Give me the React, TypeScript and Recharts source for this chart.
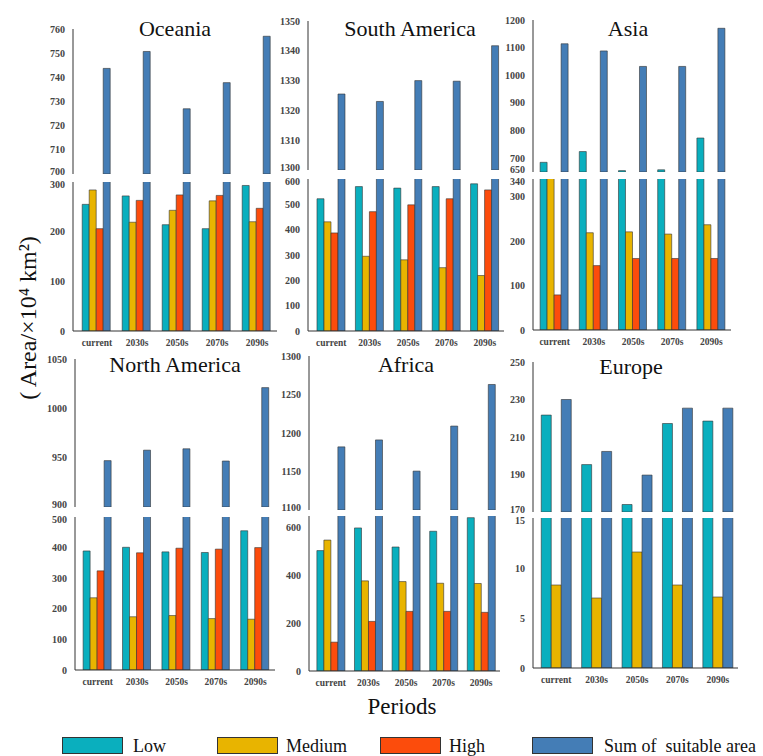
import { BarChart, Bar, XAxis, YAxis } from 'recharts';

const PERIODS = ['current', '2030s', '2050s', '2070s', '2090s'];

const oceaniaLow = [255, 272, 214, 206, 293];
const oceaniaMedium = [284, 219, 243, 262, 220];
const oceaniaHigh = [206, 263, 274, 273, 247];
const oceaniaSum = [743.7, 750.7, 727, 737.8, 757];

const southAmericaLow = [522, 570, 564, 570, 581];
const southAmericaMedium = [431, 295, 281, 250, 219];
const southAmericaHigh = [387, 471, 498, 522, 557];
const southAmericaSum = [1325.5, 1323, 1330, 1329.8, 1341.7];

const asiaLow = [685, 724, 655, 658, 773];
const asiaMedium = [400, 219, 221, 216, 237];
const asiaHigh = [79, 145, 161, 161, 161];
const asiaSum = [1114, 1088, 1032, 1032, 1170];

const northAmericaLow = [389, 401, 386, 384, 455];
const northAmericaMedium = [236, 174, 178, 168, 166];
const northAmericaHigh = [324, 383, 398, 395, 400];
const northAmericaSum = [947, 957.6, 959, 946.6, 1021];

const africaLow = [505, 600, 520, 586, 643];
const africaMedium = [549, 378, 375, 368, 367];
const africaHigh = [121, 208, 250, 250, 246];
const africaSum = [1182, 1191, 1150.5, 1209, 1263];

const europeLow = [221.7, 195.3, 174, 217.2, 218.5];
const europeMedium = [8.3, 7.0, 11.6, 8.3, 7.1];
const europeSum = [230, 202.3, 189.7, 225.4, 225.4];

const COLORS = {
  low: '#0AAFBE',
  medium: '#E8B400',
  high: '#FC4C0C',
  sum: '#447DB6',
};

const FONT = 'Liberation Serif, Times New Roman, serif';

interface Series {
  key: string;
  values: number[];
  color: string;
}

interface PanelProps {
  title: string;
  titleX: number;
  titleTop: number;
  series: Series[];
  axisX: number;
  padLeft: number;
  right: number;
  uT: number;
  uB: number;
  lT: number;
  lB: number;
  upperDomain: [number, number];
  upperTicks: number[];
  lowerDomain: [number, number];
  lowerTicks: number[];
}

const Y_W = 40;
const PAD = 8;
const X_H = 18;

const xTick = { fontSize: 9.5, fontWeight: 700, fill: '#444', fontFamily: FONT };

// y tick label; the end labels next to the axis break are nudged apart like the original
function YTick(props: any) {
  const { x, y, payload, shift } = props;
  const dy = shift[payload.value] ?? 0;
  return (
    <text
      x={x}
      y={y + dy}
      dy="0.355em"
      textAnchor="end"
      fontSize={10}
      fontWeight={700}
      fill="#444"
      fontFamily={FONT}
    >
      {payload.value}
    </text>
  );
}

function Panel(p: PanelProps) {
  const left = p.axisX - Y_W;
  const width = p.right - p.axisX + Y_W;

  const upperData = PERIODS.map((name, i) => {
    const row: Record<string, string | number | null> = { name };
    p.series.forEach((s) => {
      const v = s.values[i];
      row[s.key] = v >= p.upperDomain[0] ? v : null;
    });
    return row;
  });
  const lowerData = PERIODS.map((name, i) => {
    const row: Record<string, string | number> = { name };
    p.series.forEach((s) => {
      row[s.key] = s.values[i];
    });
    return row;
  });

  const bars = p.series.map((s) => (
    <Bar
      key={s.key}
      dataKey={s.key}
      fill={s.color}
      stroke="#333"
      strokeWidth={0.6}
      isAnimationActive={false}
    />
  ));

  const upperShift = { [p.upperDomain[0]]: -3 };
  const lowerShift = { [p.lowerDomain[1]]: 2 };

  return (
    <>
      <div style={{ position: 'absolute', left, top: p.uT - PAD }}>
        <BarChart
          width={width}
          height={p.uB - p.uT + PAD * 2}
          data={upperData}
          margin={{ top: PAD, bottom: PAD, left: 0, right: 0 }}
          barCategoryGap="13%"
          barGap={0}
        >
          <XAxis dataKey="name" hide padding={{ left: p.padLeft, right: 0 }} />
          <YAxis
            width={Y_W}
            domain={p.upperDomain}
            ticks={p.upperTicks}
            allowDataOverflow
            interval={0}
            axisLine={{ stroke: '#333' }}
            tickLine={false}
            tick={(t: any) => <YTick {...t} shift={upperShift} />}
          />
          {bars}
        </BarChart>
      </div>
      <div style={{ position: 'absolute', left, top: p.lT - PAD }}>
        <BarChart
          width={width}
          height={p.lB - p.lT + PAD + X_H}
          data={lowerData}
          margin={{ top: PAD, bottom: 0, left: 0, right: 0 }}
          barCategoryGap="13%"
          barGap={0}
        >
          <XAxis
            dataKey="name"
            height={X_H}
            padding={{ left: p.padLeft, right: 0 }}
            axisLine={{ stroke: '#333' }}
            tickLine={false}
            tick={xTick}
            interval={0}
          />
          <YAxis
            width={Y_W}
            domain={p.lowerDomain}
            ticks={p.lowerTicks}
            allowDataOverflow
            interval={0}
            axisLine={{ stroke: '#333' }}
            tickLine={false}
            tick={(t: any) => <YTick {...t} shift={lowerShift} />}
          />
          {bars}
        </BarChart>
      </div>
      <div
        style={{
          position: 'absolute',
          left: p.titleX,
          top: p.titleTop,
          transform: 'translateX(-50%)',
          fontFamily: FONT,
          fontSize: 22,
          lineHeight: 1,
          whiteSpace: 'nowrap',
          color: '#111',
        }}
      >
        {p.title}
      </div>
    </>
  );
}

const LEGEND = [
  { label: 'Low', color: COLORS.low, box: 62, text: 133 },
  { label: 'Medium', color: COLORS.medium, box: 217, text: 286 },
  { label: 'High', color: COLORS.high, box: 380, text: 449 },
  { label: 'Sum of  suitable area', color: COLORS.sum, box: 532, text: 604 },
];

export default function App() {
  return (
    <div
      style={{
        position: 'absolute',
        left: 0,
        top: 0,
        width: 763,
        height: 756,
        background: '#fff',
        overflow: 'hidden',
        fontFamily: FONT,
      }}
    >
      <Panel
        title="Oceania"
        titleX={175}
        titleTop={18}
        series={[
          { key: 'low', values: oceaniaLow, color: COLORS.low },
          { key: 'medium', values: oceaniaMedium, color: COLORS.medium },
          { key: 'high', values: oceaniaHigh, color: COLORS.high },
          { key: 'sum', values: oceaniaSum, color: COLORS.sum },
        ]}
        axisX={73}
        padLeft={4}
        right={277}
        uT={29}
        uB={174}
        lT={182}
        lB={331}
        upperDomain={[700, 760]}
        upperTicks={[700, 710, 720, 730, 740, 750, 760]}
        lowerDomain={[0, 300]}
        lowerTicks={[0, 100, 200, 300]}
      />
      <Panel
        title="South America"
        titleX={410}
        titleTop={18}
        series={[
          { key: 'low', values: southAmericaLow, color: COLORS.low },
          { key: 'medium', values: southAmericaMedium, color: COLORS.medium },
          { key: 'high', values: southAmericaHigh, color: COLORS.high },
          { key: 'sum', values: southAmericaSum, color: COLORS.sum },
        ]}
        axisX={308}
        padLeft={4}
        right={504}
        uT={21}
        uB={170}
        lT={179}
        lB={331}
        upperDomain={[1300, 1350]}
        upperTicks={[1300, 1310, 1320, 1330, 1340, 1350]}
        lowerDomain={[0, 600]}
        lowerTicks={[0, 100, 200, 300, 400, 500, 600]}
      />
      <Panel
        title="Asia"
        titleX={628}
        titleTop={18}
        series={[
          { key: 'low', values: asiaLow, color: COLORS.low },
          { key: 'medium', values: asiaMedium, color: COLORS.medium },
          { key: 'high', values: asiaHigh, color: COLORS.high },
          { key: 'sum', values: asiaSum, color: COLORS.sum },
        ]}
        axisX={533}
        padLeft={2}
        right={731}
        uT={20}
        uB={172}
        lT={179}
        lB={330}
        upperDomain={[650, 1200]}
        upperTicks={[650, 700, 800, 900, 1000, 1100, 1200]}
        lowerDomain={[0, 340]}
        lowerTicks={[0, 100, 200, 300, 340]}
      />
      <Panel
        title="North America"
        titleX={175}
        titleTop={354}
        series={[
          { key: 'low', values: northAmericaLow, color: COLORS.low },
          { key: 'medium', values: northAmericaMedium, color: COLORS.medium },
          { key: 'high', values: northAmericaHigh, color: COLORS.high },
          { key: 'sum', values: northAmericaSum, color: COLORS.sum },
        ]}
        axisX={75}
        padLeft={3}
        right={275}
        uT={359}
        uB={507}
        lT={517}
        lB={670}
        upperDomain={[900, 1050]}
        upperTicks={[900, 950, 1000, 1050]}
        lowerDomain={[0, 500]}
        lowerTicks={[0, 100, 200, 300, 400, 500]}
      />
      <Panel
        title="Africa"
        titleX={406}
        titleTop={354}
        series={[
          { key: 'low', values: africaLow, color: COLORS.low },
          { key: 'medium', values: africaMedium, color: COLORS.medium },
          { key: 'high', values: africaHigh, color: COLORS.high },
          { key: 'sum', values: africaSum, color: COLORS.sum },
        ]}
        axisX={309}
        padLeft={3}
        right={500}
        uT={356}
        uB={510}
        lT={516}
        lB={671}
        upperDomain={[1100, 1300]}
        upperTicks={[1100, 1150, 1200, 1250, 1300]}
        lowerDomain={[0, 650]}
        lowerTicks={[0, 200, 400, 600]}
      />
      <Panel
        title="Europe"
        titleX={631}
        titleTop={356}
        series={[
          { key: 'low', values: europeLow, color: COLORS.low },
          { key: 'medium', values: europeMedium, color: COLORS.medium },
          { key: 'sum', values: europeSum, color: COLORS.sum },
        ]}
        axisX={533}
        padLeft={3}
        right={738}
        uT={362}
        uB={512}
        lT={518}
        lB={668}
        upperDomain={[170, 250]}
        upperTicks={[170, 190, 210, 230, 250]}
        lowerDomain={[0, 15]}
        lowerTicks={[0, 5, 10, 15]}
      />

      <div
        style={{
          position: 'absolute',
          left: 28,
          top: 318,
          transform: 'translate(-50%, -50%) rotate(-90deg)',
          fontSize: 24,
          whiteSpace: 'pre',
          color: '#111',
          lineHeight: 1,
        }}
      >
        ( Area/×10⁴ km²)
      </div>

      <div
        style={{
          position: 'absolute',
          left: 402,
          top: 695,
          transform: 'translateX(-50%)',
          fontSize: 23,
          lineHeight: 1,
          color: '#111',
        }}
      >
        Periods
      </div>

      {LEGEND.map((item) => (
        <div key={item.label}>
          <div
            style={{
              position: 'absolute',
              left: item.box,
              top: 737,
              width: 61,
              height: 17,
              background: item.color,
              border: '1px solid #333',
              boxSizing: 'border-box',
            }}
          />
          <div
            style={{
              position: 'absolute',
              left: item.text,
              top: 736,
              fontSize: 18,
              lineHeight: '20px',
              whiteSpace: 'pre',
              color: '#111',
            }}
          >
            {item.label}
          </div>
        </div>
      ))}
    </div>
  );
}
